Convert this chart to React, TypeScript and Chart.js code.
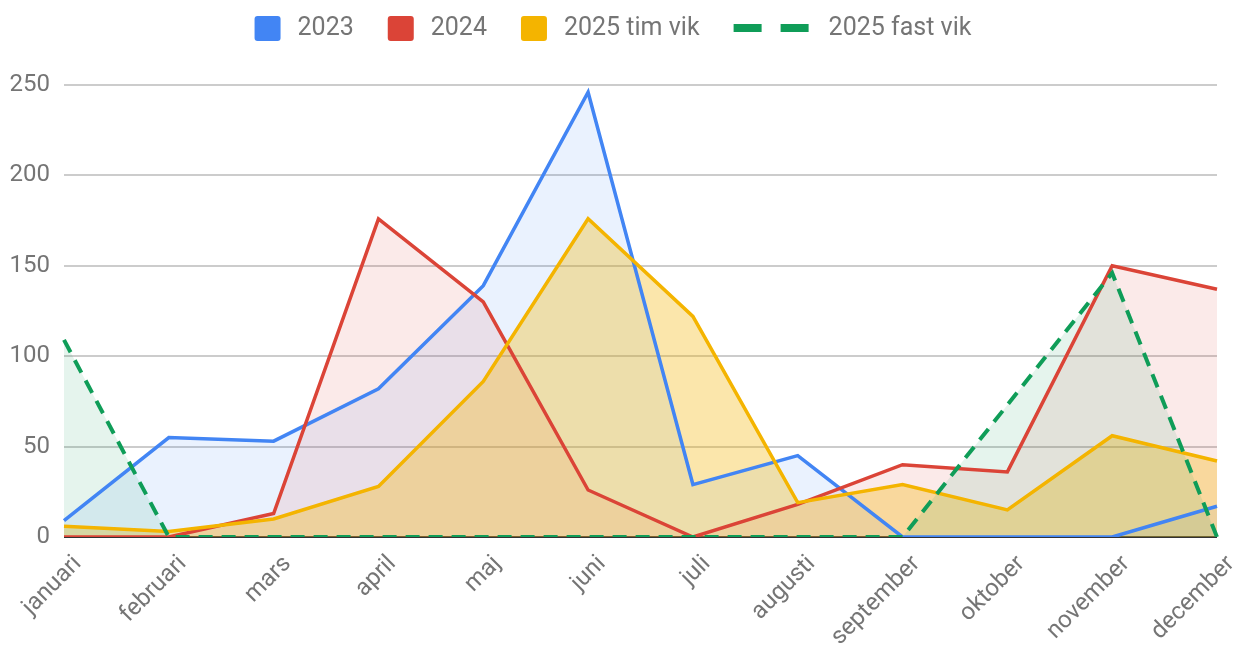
import React, { useEffect, useRef } from "react";
import { Chart, registerables } from "chart.js";

Chart.register(...registerables);

const months = ["januari", "februari", "mars", "april", "maj", "juni", "juli", "augusti", "september", "oktober", "november", "december"];
const s2023 = [9, 55, 53, 82, 139, 246, 29, 45, 0, 0, 0, 17];
const s2024 = [0, 0, 13, 176, 130, 26, 0, 18, 40, 36, 150, 137];
const s2025tim = [6, 3, 10, 28, 86, 176, 122, 19, 29, 15, 56, 42];
const s2025fast = [109, 0, 0, 0, 0, 0, 0, 0, 0, 73, 146, 0];
const seriesNames = ["2023", "2024", "2025 tim vik", "2025 fast vik"];
const yTicks = [0, 50, 100, 150, 200, 250];

const FONT = "Roboto, 'Noto Sans', sans-serif";
const TEXT = "#757575";

const legendPlugin = {
  id: "gLegend",
  afterDraw(chart: any) {
    const ctx = chart.ctx as CanvasRenderingContext2D;
    const ds = chart.data.datasets;
    ctx.save();
    ctx.font = `25px ${FONT}`;
    const boxW = 26;
    const dashW = 28;
    const dashGap = 19;
    const lineW = dashW * 2 + dashGap;
    const gapBoxText = 17;
    const gapLineText = 20;
    const gapItems = 34;
    const widths = ds.map((d: any) => {
      const dashed = d.borderDash && d.borderDash.length;
      return (dashed ? lineW + gapLineText : boxW + gapBoxText) + ctx.measureText(d.label).width;
    });
    const total = widths.reduce((a: number, b: number) => a + b, 0) + gapItems * (ds.length - 1);
    let x = (chart.width - total) / 2 - 4;
    const cy = 28;
    ds.forEach((d: any) => {
      const dashed = d.borderDash && d.borderDash.length;
      ctx.fillStyle = d.borderColor;
      if (dashed) {
        ctx.fillRect(x, cy - 4, dashW, 8);
        ctx.fillRect(x + dashW + dashGap, cy - 4, dashW, 8);
        x += lineW + gapLineText;
      } else {
        ctx.beginPath();
        (ctx as any).roundRect(x, cy - 12, boxW, 25, 3);
        ctx.fill();
        x += boxW + gapBoxText;
      }
      ctx.fillStyle = TEXT;
      ctx.textBaseline = "middle";
      ctx.textAlign = "left";
      ctx.fillText(d.label, x, cy + 1);
      x += ctx.measureText(d.label).width + gapItems;
    });
    ctx.restore();
  },
};

export default function App() {
  const ref = useRef<HTMLCanvasElement | null>(null);
  useEffect(() => {
    document.body.style.margin = "0";
    const canvas = ref.current!;
    const mk = (label: string, data: number[], color: string, fillA: string, order: number, extra: any = {}) => ({
      label,
      data,
      borderColor: color,
      backgroundColor: fillA,
      fill: "origin",
      borderWidth: 3.5,
      pointRadius: 0,
      tension: 0,
      order,
      borderJoinStyle: "miter",
      ...extra,
    });
    const chart = new Chart(canvas, {
      type: "line",
      data: {
        labels: months,
        datasets: [
          mk(seriesNames[0], s2023, "#4285F4", "rgba(66,133,244,0.11)", 4),
          mk(seriesNames[1], s2024, "#DB4437", "rgba(219,68,55,0.11)", 3),
          mk(seriesNames[2], s2025tim, "#F4B400", "rgba(244,180,0,0.33)", 2),
          mk(seriesNames[3], s2025fast, "#0F9D58", "rgba(15,157,88,0.11)", 1, { borderDash: [14, 9], borderWidth: 4, borderCapStyle: "butt" }),
        ],
      },
      options: {
        animation: false,
        responsive: false,
        devicePixelRatio: 1,
        layout: { padding: { top: 85, right: 17, left: 0, bottom: 0 } },
        plugins: {
          legend: { display: false },
          tooltip: { enabled: false },
          filler: { drawTime: "beforeDatasetsDraw" },
        },
        scales: {
          x: {
            offset: false,
            grid: { display: false },
            border: { display: false },
            ticks: {
              autoSkip: false,
              maxRotation: 45,
              minRotation: 45,
              color: TEXT,
              font: { family: FONT, size: 24 },
              padding: 5,
              labelOffset: 14,
            },
            afterFit: (s: any) => {
              s.height = 652 - 537;
              s.paddingLeft = 0;
              s.paddingRight = 0;
            },
          },
          y: {
            min: 0,
            max: 250,
            afterBuildTicks: (s: any) => {
              s.ticks = yTicks.map((v) => ({ value: v }));
            },
            grid: {
              color: (c: any) => (c.tick && c.tick.value === 0 ? "#333333" : "#cccccc"),
              lineWidth: 2,
              drawTicks: false,
            },
            border: { display: false },
            ticks: {
              color: TEXT,
              font: { family: FONT, size: 24 },
              padding: 14,
            },
            afterFit: (s: any) => {
              s.width = 64;
            },
          },
        },
      },
      plugins: [legendPlugin],
    } as any);
    return () => chart.destroy();
  }, []);
  return (
    <div style={{ width: 1234, height: 652 }}>
      <canvas ref={ref} width={1234} height={652} style={{ display: "block", width: 1234, height: 652 }} />
    </div>
  );
}
